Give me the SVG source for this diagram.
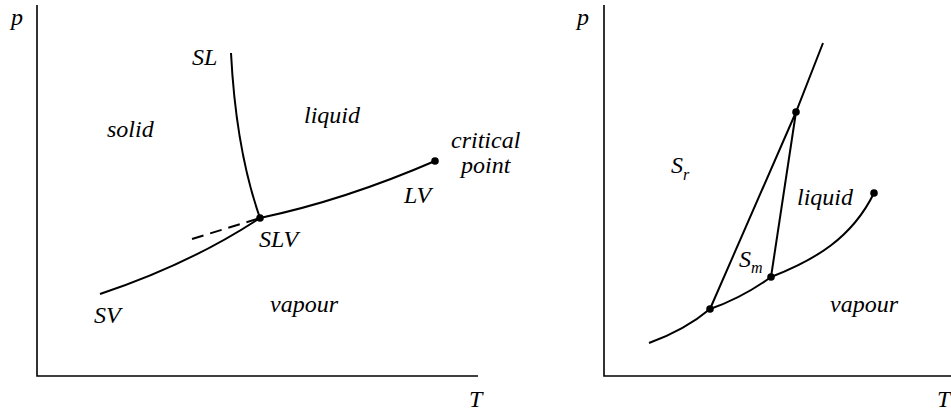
<svg xmlns="http://www.w3.org/2000/svg" width="951" height="414" viewBox="0 0 951 414">
<style>
.ax{fill:none;stroke:#000;stroke-width:1.6}
.cv{fill:none;stroke:#000;stroke-width:2}
.ds{fill:none;stroke:#000;stroke-width:2;stroke-dasharray:12 7}
.dot{fill:#000}
.t{font-family:'Liberation Serif',serif;font-style:italic;font-size:24px;fill:#000}
.sub{font-size:16px}
</style>
<rect width="951" height="414" fill="#fff"/>
<g id="left-diagram" font-family="Liberation Serif" font-style="italic" font-size="24">
  <g id="left-axes">
    <path class="ax" d="M37,5 V376 H478"/>
    <text class="t" x="11" y="25">p</text>
    <text class="t" x="469" y="407">T</text>
  </g>
  <g id="connectors-left">
    <path class="cv" d="M231,53 Q236,150 260,218"/>
    <path class="cv" d="M100,294 Q190,264 260,218"/>
    <path class="cv" d="M260,218 Q345,200 435,161"/>
    <path class="ds" d="M192,239 L260,218"/>
  </g>
  <g id="node-SLV"><circle class="dot" cx="260" cy="218" r="3.8"/><text class="t" x="259" y="247">SLV</text></g>
  <g id="node-critical"><circle class="dot" cx="435" cy="161" r="3.8"/><text class="t" x="451" y="148">critical</text><text class="t" x="461" y="173">point</text></g>
  <g id="label-SL"><text class="t" x="192" y="65">SL</text></g>
  <g id="label-solid"><text class="t" x="107" y="137">solid</text></g>
  <g id="label-liquid"><text class="t" x="304" y="123">liquid</text></g>
  <g id="label-LV"><text class="t" x="404" y="203">LV</text></g>
  <g id="label-SV"><text class="t" x="94" y="323">SV</text></g>
  <g id="label-vapour"><text class="t" x="270" y="312">vapour</text></g>
</g>
<g id="right-diagram" font-family="Liberation Serif" font-style="italic" font-size="24">
  <g id="right-axes">
    <path class="ax" d="M604,5 V376 H951"/>
    <text class="t" x="577" y="25">p</text>
    <text class="t" x="937" y="407">T</text>
  </g>
  <g id="connectors-right">
    <path class="cv" d="M649,343 Q685,330 710,309"/>
    <path class="cv" d="M710,309 Q742,298 771,277"/>
    <path class="cv" d="M771,277 C815,260 852,238 874,193"/>
    <path class="cv" d="M710,309 L796,112 L823,43"/>
    <path class="cv" d="M796,112 L771,277"/>
  </g>
  <g id="node-p1"><circle class="dot" cx="710" cy="309" r="3.8"/></g>
  <g id="node-p2"><circle class="dot" cx="771" cy="277" r="3.8"/></g>
  <g id="node-p3"><circle class="dot" cx="796" cy="112" r="3.8"/></g>
  <g id="node-p4"><circle class="dot" cx="874" cy="193" r="3.8"/></g>
  <g id="label-Sr"><text class="t" x="671" y="173">S<tspan class="sub" dy="7">r</tspan></text></g>
  <g id="label-Sm"><text class="t" x="739" y="267">S<tspan class="sub" dy="6">m</tspan></text></g>
  <g id="label-liquid-r"><text class="t" x="797" y="205">liquid</text></g>
  <g id="label-vapour-r"><text class="t" x="830" y="312">vapour</text></g>
</g>
</svg>
